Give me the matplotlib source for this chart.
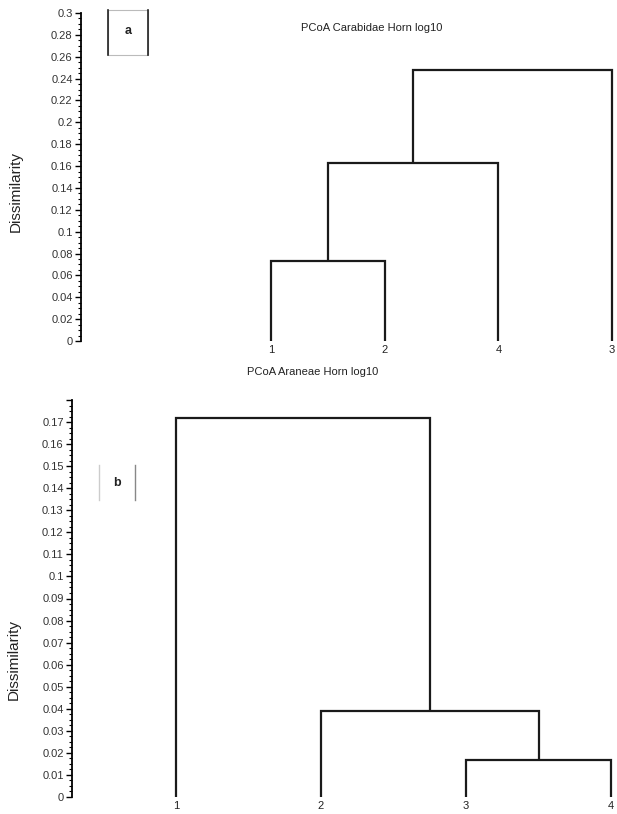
import matplotlib
matplotlib.use("Agg")
import matplotlib.pyplot as plt
from matplotlib.ticker import MultipleLocator
from matplotlib.patches import Rectangle
from matplotlib.lines import Line2D

plt.rcParams['font.family'] = ['Liberation Sans', 'DejaVu Sans']

# ---- Data ----
leaves_a = ["1", "2", "4", "3"]
# merges: (left member(s), right member(s), height)
merges_a = [(("1",), ("2",), 0.073),
            (("1", "2"), ("4",), 0.163),
            (("1", "2", "4"), ("3",), 0.248)]
yticks_a = [0, 0.02, 0.04, 0.06, 0.08, 0.1, 0.12, 0.14, 0.16, 0.18, 0.2, 0.22, 0.24, 0.26, 0.28, 0.3]
ylabels_a = ["0", "0.02", "0.04", "0.06", "0.08", "0.1", "0.12", "0.14", "0.16", "0.18",
             "0.2", "0.22", "0.24", "0.26", "0.28", "0.3"]
title_a = "PCoA Carabidae Horn log10"

leaves_b = ["1", "2", "3", "4"]
merges_b = [(("3",), ("4",), 0.017),
            (("2",), ("3", "4"), 0.039),
            (("1",), ("2", "3", "4"), 0.172)]
yticks_b = [0, 0.01, 0.02, 0.03, 0.04, 0.05, 0.06, 0.07, 0.08, 0.09, 0.1, 0.11, 0.12,
            0.13, 0.14, 0.15, 0.16, 0.17, 0.18]
ylabels_b = ["0", "0.01", "0.02", "0.03", "0.04", "0.05", "0.06", "0.07", "0.08", "0.09",
             "0.1", "0.11", "0.12", "0.13", "0.14", "0.15", "0.16", "0.17", ""]
title_b = "PCoA Araneae Horn log10"
ylabel = "Dissimilarity"

W, H = 617, 814
fig = plt.figure(figsize=(W / 100, H / 100), dpi=100)


def draw_dendro(ax, leaves, merges, lw=1.6, color="#1a1a1a"):
    pos = {(l,): (i + 1, 0.0) for i, l in enumerate(leaves)}
    for left, right, h in merges:
        xl, hl = pos[tuple(left)]
        xr, hr = pos[tuple(right)]
        ax.plot([xl, xl, xr, xr], [hl, h, h, hr], color=color, lw=lw,
                solid_joinstyle="miter", solid_capstyle="butt", clip_on=False)
        pos[tuple(left) + tuple(right)] = ((xl + xr) / 2, h)


def style_axis(ax, yticks, ylabels, minor, leaves):
    for s in ["top", "right", "bottom"]:
        ax.spines[s].set_visible(False)
    ax.spines["left"].set_linewidth(1.3)
    ax.set_yticks(yticks)
    ax.set_yticklabels(ylabels)
    ax.yaxis.set_minor_locator(MultipleLocator(minor))
    ax.tick_params(axis="y", which="major", length=4, width=1.0, labelsize=8,
                   labelcolor="#333333", pad=2)
    ax.tick_params(axis="y", which="minor", length=2, width=0.8)
    ax.set_xticks(range(1, len(leaves) + 1))
    ax.set_xticklabels(leaves)
    ax.tick_params(axis="x", length=0, labelsize=8, pad=3, labelcolor="#222222")


# ---- Panel a ----
axa = fig.add_axes([81 / W, 1 - 341 / H, (W - 81) / W, 328 / H])
draw_dendro(axa, leaves_a, merges_a)
axa.set_xlim(-0.671, 4.043)
axa.set_ylim(0, 0.3)
style_axis(axa, yticks_a, ylabels_a, 0.005, leaves_a)
fig.text(16 / W, 1 - 192 / H, ylabel, rotation=90, ha="center", va="center",
         fontsize=11, color="#222222")
fig.text(372 / W, 1 - 28 / H, title_a, ha="center", va="center", fontsize=8, color="#222222")
fig.add_artist(Rectangle((108 / W, 1 - 55 / H), 40 / W, 45 / H, transform=fig.transFigure,
                         fill=False, edgecolor="#bbbbbb", lw=0.8))
fig.add_artist(Line2D([108 / W, 108 / W], [1 - 55 / H, 1 - 10 / H],
                      transform=fig.transFigure, color="#222222", lw=1.2))
fig.add_artist(Line2D([148 / W, 148 / W], [1 - 55 / H, 1 - 10 / H],
                      transform=fig.transFigure, color="#222222", lw=1.2))
fig.text(128 / W, 1 - 31 / H, "a", ha="center", va="center", fontsize=9,
         fontweight="bold", color="#222222")

# ---- Panel b ----
axb = fig.add_axes([72 / W, 1 - 797 / H, (W - 72) / W, 397 / H])
draw_dendro(axb, leaves_b, merges_b)
axb.set_xlim(0.283, 4.041)
axb.set_ylim(0, 0.18)
style_axis(axb, yticks_b, ylabels_b, 0.0025, leaves_b)
fig.text(14 / W, 1 - 660 / H, ylabel, rotation=90, ha="center", va="center",
         fontsize=11, color="#222222")
fig.text(313 / W, 1 - 372 / H, title_b, ha="center", va="center", fontsize=8, color="#222222")
fig.add_artist(Line2D([99 / W, 99 / W], [1 - 500 / H, 1 - 465 / H],
                      transform=fig.transFigure, color="#cccccc", lw=1.0))
fig.add_artist(Line2D([135 / W, 135 / W], [1 - 500 / H, 1 - 465 / H],
                      transform=fig.transFigure, color="#888888", lw=1.0))
fig.text(117 / W, 1 - 483 / H, "b", ha="center", va="center", fontsize=9,
         fontweight="bold", color="#222222")

fig.savefig("out.png", dpi=100)
